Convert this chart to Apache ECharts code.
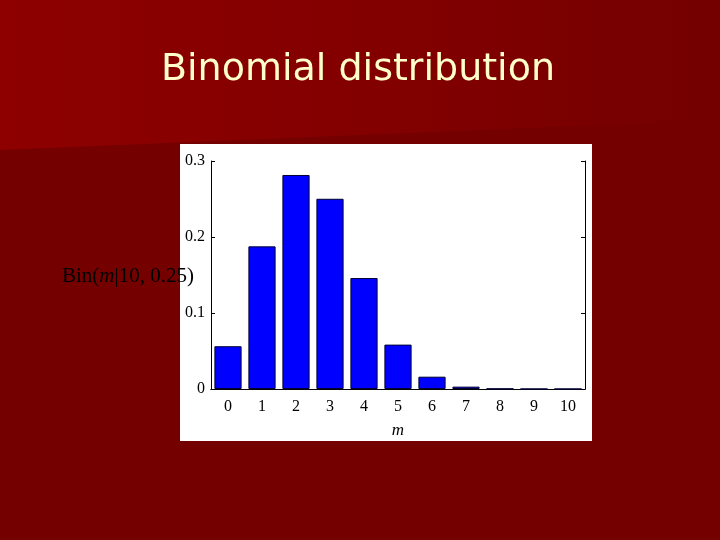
<!DOCTYPE html>
<html>
<head>
<meta charset="utf-8">
<script src="https://cdn.jsdelivr.net/npm/echarts@6/dist/echarts.min.js"></script>
<style>html,body{margin:0;padding:0;background:#740000;}#c{width:720px;height:540px;}</style>
</head>
<body>
<div id="c"></div>
<script>
const titleText = 'Binomial distribution';
const categories = ['0','1','2','3','4','5','6','7','8','9','10'];
const probabilities = [0.0563, 0.1877, 0.2816, 0.2503, 0.1460, 0.0584, 0.0162, 0.0031, 0.0004, 0.00003, 0.000001];
const yTicks = [0, 0.1, 0.2, 0.3];
const xName = 'm';

const chart = echarts.init(document.getElementById('c'), null, {renderer: 'canvas'});
const serif = 'Liberation Serif';
const axisLineStyle = {color: '#000', width: 1};
chart.setOption({
  animation: false,
  backgroundColor: '#740000',
  graphic: [
    {type: 'polygon', z: -10, silent: true,
     shape: {points: [[0,0],[720,0],[720,120],[0,150]]},
     style: {fill: new echarts.graphic.LinearGradient(0,0,1,0,[
       {offset: 0, color: '#8e0000'}, {offset: 0.55, color: '#820000'}, {offset: 1, color: '#740000'}])}},
    {type: 'rect', z: -5, silent: true, shape: {x: 180, y: 144, width: 412, height: 297}, style: {fill: '#ffffff'}},
    {type: 'text', z: 10, x: 358, y: 70,
     style: {text: titleText, fontFamily: 'DejaVu Sans', fontSize: 38, fill: '#FFFFCC', align: 'center', verticalAlign: 'middle'}},
    {type: 'text', z: 10, x: 128, y: 276,
     style: {text: '{a|Bin(}{b|m}{a||10, 0.25)}', align: 'center', verticalAlign: 'middle',
       rich: {a: {fontFamily: serif, fontSize: 21, color: '#0a0000'},
              b: {fontFamily: serif, fontSize: 21, fontStyle: 'italic', color: '#0a0000'}}}}
  ],
  grid: {left: 211, top: 161, right: 135, bottom: 151, containLabel: false},
  xAxis: [
    {type: 'category', data: categories, position: 'bottom',
     axisLine: {lineStyle: axisLineStyle},
     axisTick: {inside: true, alignWithLabel: true, length: 4, lineStyle: axisLineStyle},
     axisLabel: {fontFamily: serif, fontSize: 16, color: '#000', margin: 10},
     name: xName, nameLocation: 'middle', nameGap: 33,
     nameTextStyle: {fontFamily: serif, fontStyle: 'italic', fontSize: 17, color: '#000'}},
    {type: 'category', data: categories, position: 'top',
     axisLine: {lineStyle: axisLineStyle},
     axisTick: {inside: true, alignWithLabel: true, length: 4, lineStyle: axisLineStyle},
     axisLabel: {show: false}}
  ],
  yAxis: [
    {type: 'value', min: yTicks[0], max: yTicks[yTicks.length-1], interval: 0.1, position: 'left',
     axisLine: {show: true, lineStyle: axisLineStyle},
     axisTick: {show: true, inside: true, length: 4, lineStyle: axisLineStyle},
     splitLine: {show: false},
     axisLabel: {fontFamily: serif, fontSize: 16, color: '#000', margin: 6,
       formatter: v => (Math.abs(v) < 1e-9 ? '0' : String(Math.round(v*10)/10))}},
    {type: 'value', min: yTicks[0], max: yTicks[yTicks.length-1], interval: 0.1, position: 'right',
     axisLine: {show: true, lineStyle: axisLineStyle},
     axisTick: {show: true, inside: true, length: 4, lineStyle: axisLineStyle},
     splitLine: {show: false}, axisLabel: {show: false}}
  ],
  series: [{
    type: 'bar', data: probabilities, xAxisIndex: 0, yAxisIndex: 0,
    barWidth: '80%',
    itemStyle: {color: '#0000ff', borderColor: '#000033', borderWidth: 1}
  }]
});
</script>
</body>
</html>
